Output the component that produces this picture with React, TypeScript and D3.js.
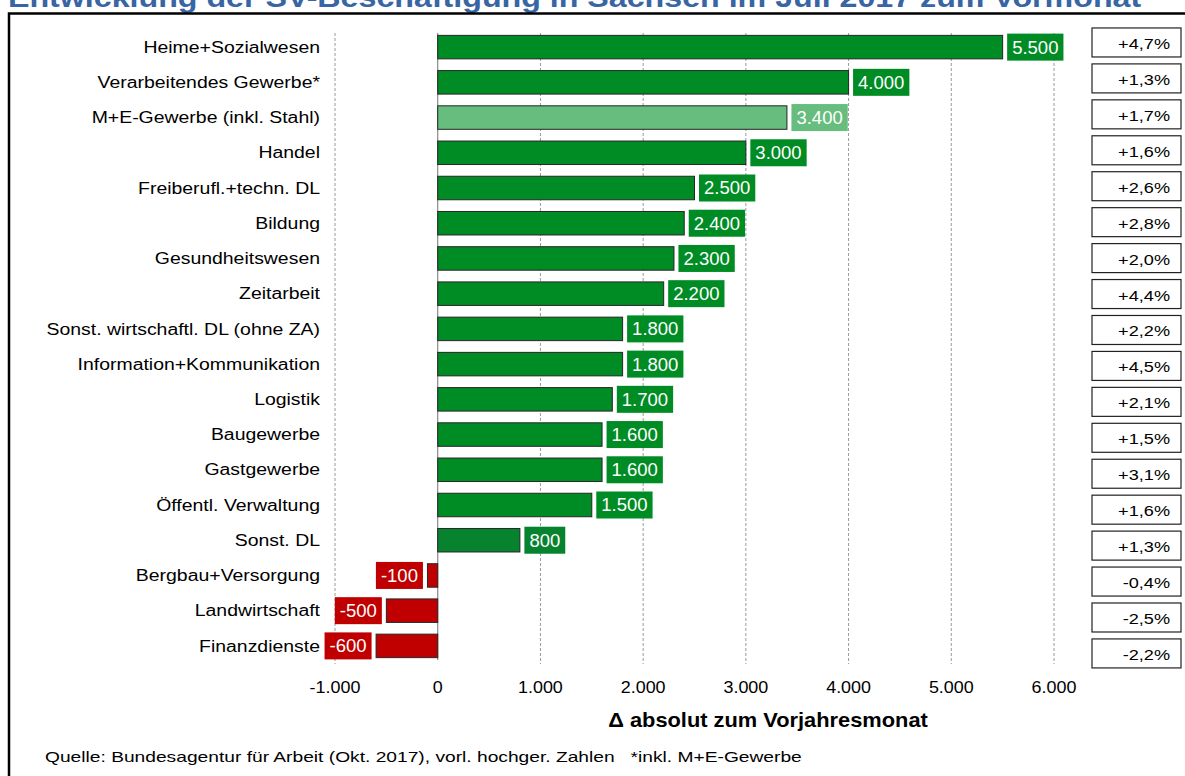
import React, { useEffect, useRef } from 'react';
import * as d3 from 'd3';

const categories = [
  'Heime+Sozialwesen',
  'Verarbeitendes Gewerbe*',
  'M+E-Gewerbe (inkl. Stahl)',
  'Handel',
  'Freiberufl.+techn. DL',
  'Bildung',
  'Gesundheitswesen',
  'Zeitarbeit',
  'Sonst. wirtschaftl. DL (ohne ZA)',
  'Information+Kommunikation',
  'Logistik',
  'Baugewerbe',
  'Gastgewerbe',
  'Öffentl. Verwaltung',
  'Sonst. DL',
  'Bergbau+Versorgung',
  'Landwirtschaft',
  'Finanzdienste',
];

const absChange = [5500, 4000, 3400, 3000, 2500, 2400, 2300, 2200, 1800, 1800, 1700, 1600, 1600, 1500, 800, -100, -500, -600];

const pctChange = [4.7, 1.3, 1.7, 1.6, 2.6, 2.8, 2.0, 4.4, 2.2, 4.5, 2.1, 1.5, 3.1, 1.6, 1.3, -0.4, -2.5, -2.2];

const xTicks = [-1000, 0, 1000, 2000, 3000, 4000, 5000, 6000];

const title = 'Entwicklung der SV-Beschäftigung in Sachsen im Juli 2017 zum Vormonat';
const axisTitle = 'Δ absolut zum Vorjahresmonat';
const source = 'Quelle: Bundesagentur für Arbeit (Okt. 2017), vorl. hochger. Zahlen   *inkl. M+E-Gewerbe';

const W = 1185;
const H = 776;
const FONT = '"Liberation Sans", Arial, sans-serif';

const de = d3.formatLocale({ decimal: ',', thousands: '.', grouping: [3], currency: ['', '€'], minus: '-' });
const fmtAbs = de.format(',.0f');
const fmtPct = de.format('+.1f');

function barColor(cat: string, v: number) {
  if (v < 0) return '#c00000';
  if (cat.startsWith('M+E')) return '#66bd7d';
  if (cat === 'Sonst. DL') return '#07822f';
  return '#008c24';
}

// the original's text is a bit wider than Arial, so stretch it horizontally
const stretch = (px: number, py: number, sx: number) => `translate(${px},${py}) scale(${sx},1)`;

export default function App() {
  const svgRef = useRef<SVGSVGElement>(null);

  useEffect(() => {
    if (!svgRef.current) return;
    const svg = d3.select(svgRef.current);
    svg.selectAll('*').remove();

    const x = d3.scaleLinear().domain([-1000, 6000]).range([335, 1054]);
    const y = d3.scaleBand<string>().domain(categories).range([29.5, 663.5]).paddingInner(0.333).paddingOuter(0.1665);
    // the percent boxes sit on a slightly different grid
    const yBox = d3.scaleBand<string>().domain(categories).range([24.5, 671.4]).paddingInner(0.193).paddingOuter(0.0965);

    const data = categories.map((c, i) => ({ cat: c, v: absChange[i], p: pctChange[i] }));

    svg.append('rect')
      .attr('width', W).attr('height', H).attr('fill', '#fff');

    // title (cut off at the top)
    svg.append('text')
      .attr('transform', stretch(8, 7, 1.15))
      .attr('font-family', FONT).attr('font-size', 28).attr('font-weight', 'bold')
      .attr('fill', '#3865a3')
      .text(title);

    // frame
    svg.append('rect')
      .attr('x', 9).attr('y', 13.5).attr('width', W + 20).attr('height', H + 20)
      .attr('fill', 'none').attr('stroke', '#000').attr('stroke-width', 2.5);

    // grid
    svg.append('g').selectAll('line')
      .data(xTicks.filter(t => t !== 0))
      .join('line')
      .attr('x1', d => x(d)).attr('x2', d => x(d))
      .attr('y1', 33).attr('y2', 664)
      .attr('stroke', '#9a9a9a').attr('stroke-width', 1).attr('stroke-dasharray', '3,2');

    svg.append('line')
      .attr('x1', x(0)).attr('x2', x(0)).attr('y1', 33).attr('y2', 660)
      .attr('stroke', '#888').attr('stroke-width', 1.2);

    // bars
    svg.append('g').selectAll('rect')
      .data(data)
      .join('rect')
      .attr('x', d => Math.min(x(0), x(d.v)))
      .attr('y', d => y(d.cat)!)
      .attr('width', d => Math.abs(x(d.v) - x(0)))
      .attr('height', y.bandwidth())
      .attr('fill', d => barColor(d.cat, d.v))
      .attr('stroke', '#262626').attr('stroke-width', 1);

    // value labels
    const lab = svg.append('g').selectAll('g').data(data).join('g');
    const labText = lab.append('text')
      .attr('font-family', FONT).attr('font-size', 18.5)
      .attr('fill', '#fff')
      .attr('dy', '0.35em')
      .text(d => fmtAbs(d.v));
    labText.each(function (d) {
      const t = this as SVGTextElement;
      const w = t.getComputedTextLength();
      const bw = w + 10;
      const cy = y(d.cat)! + y.bandwidth() / 2;
      const bx = d.v >= 0 ? x(d.v) + 4.5 : x(d.v) - 4.5 - bw;
      d3.select(t.parentNode as SVGGElement).insert('rect', 'text')
        .attr('x', bx).attr('y', cy - 13.5).attr('width', bw).attr('height', 27)
        .attr('fill', barColor(d.cat, d.v));
      d3.select(t).attr('x', bx + 5).attr('y', cy);
    });

    // category labels
    svg.append('g').selectAll('text')
      .data(data)
      .join('text')
      .attr('transform', d => stretch(320, y(d.cat)! + y.bandwidth() / 2, 1.23))
      .attr('dy', '0.36em')
      .attr('text-anchor', 'end')
      .attr('font-family', FONT).attr('font-size', 15.8)
      .attr('fill', '#000')
      .text(d => d.cat);

    // percent boxes
    const box = svg.append('g').selectAll('g').data(data).join('g');
    box.append('rect')
      .attr('x', 1092).attr('y', d => yBox(d.cat)!)
      .attr('width', 89).attr('height', yBox.bandwidth())
      .attr('fill', '#fff').attr('stroke', '#222').attr('stroke-width', 1.2);
    box.append('text')
      .attr('transform', d => stretch(1170, yBox(d.cat)! + yBox.bandwidth() / 2 + 6.5, 1.17))
      .attr('text-anchor', 'end')
      .attr('font-family', FONT).attr('font-size', 15.5)
      .attr('fill', '#000')
      .text(d => fmtPct(d.p) + '%');

    // x axis labels
    svg.append('g').selectAll('text')
      .data(xTicks)
      .join('text')
      .attr('transform', d => stretch(x(d), 693, 1.12))
      .attr('text-anchor', 'middle')
      .attr('font-family', FONT).attr('font-size', 16)
      .attr('fill', '#000')
      .text(d => fmtAbs(d));

    svg.append('text')
      .attr('transform', stretch(768, 727, 1.12))
      .attr('text-anchor', 'middle')
      .attr('font-family', FONT).attr('font-size', 19.5).attr('font-weight', 'bold')
      .attr('fill', '#000')
      .text(axisTitle);

    svg.append('text')
      .attr('transform', stretch(45, 762, 1.28))
      .attr('font-family', FONT).attr('font-size', 15)
      .attr('fill', '#000')
      .attr('xml:space', 'preserve')
      .style('white-space', 'pre')
      .text(source);
  }, []);

  return (
    <svg
      ref={svgRef}
      width={W}
      height={H}
      style={{ position: 'absolute', left: 0, top: 0, display: 'block' }}
    />
  );
}
